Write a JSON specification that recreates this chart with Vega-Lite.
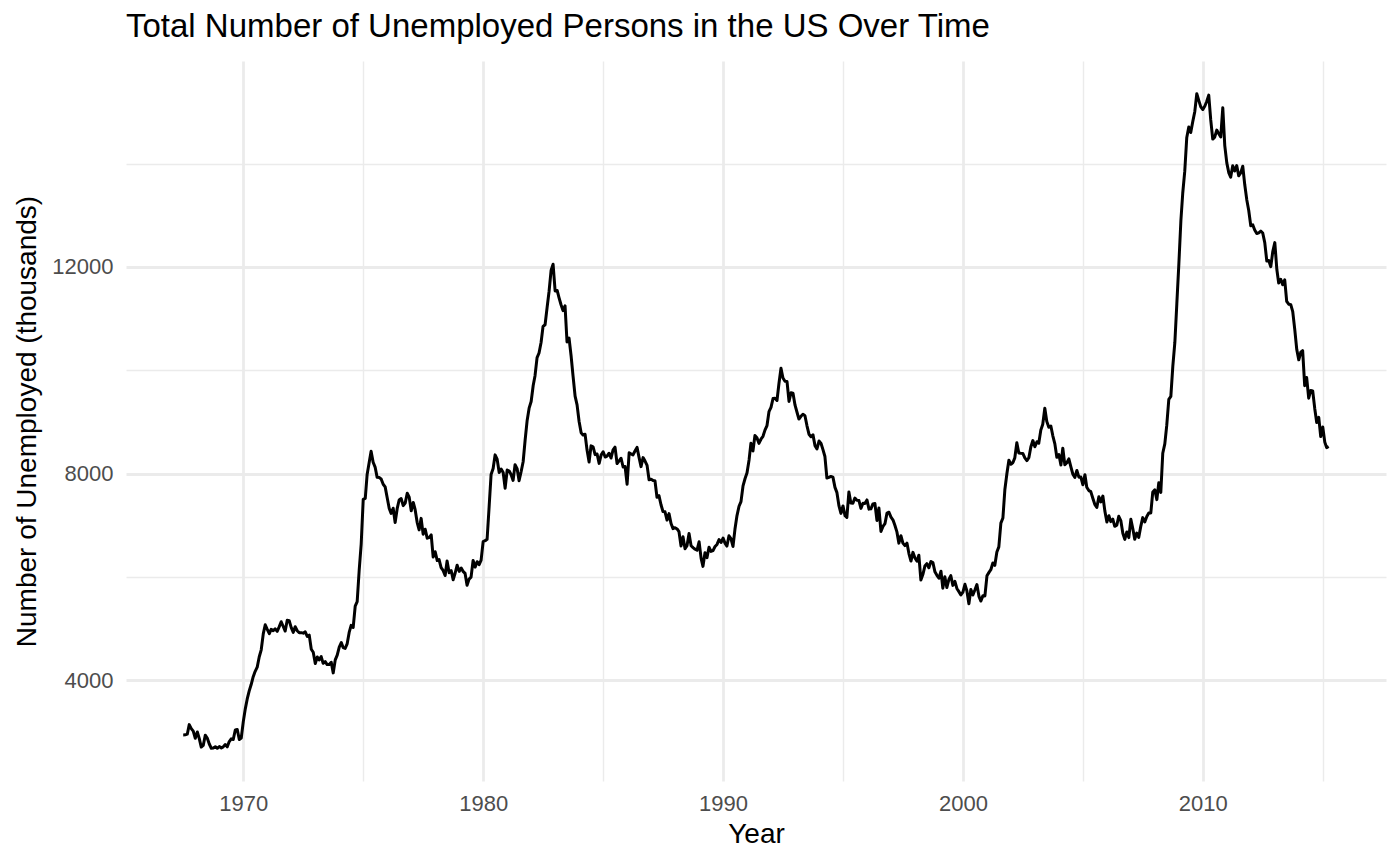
{
"$schema": "https://vega.github.io/schema/vega-lite/v6.json",
"autosize": "none",
"width": 1260,
"height": 720,
"padding": {"left": 126, "top": 61, "right": 14, "bottom": 84},
"background": "white",
"config": {"font": "Liberation Sans", "view": {"stroke": null}},
"title": {"text": "Total Number of Unemployed Persons in the US Over Time", "anchor": "start", "frame": "group", "fontSize": 33, "fontWeight": "normal", "color": "black", "offset": 17},
"data": {"values": [
{"date":"1967-07-01","unemploy":2944},{"date":"1967-08-01","unemploy":2945},{"date":"1967-09-01","unemploy":2958},{"date":"1967-10-01","unemploy":3143},{"date":"1967-11-01","unemploy":3066},{"date":"1967-12-01","unemploy":3018},
{"date":"1968-01-01","unemploy":2878},{"date":"1968-02-01","unemploy":3001},{"date":"1968-03-01","unemploy":2877},{"date":"1968-04-01","unemploy":2709},{"date":"1968-05-01","unemploy":2740},{"date":"1968-06-01","unemploy":2938},{"date":"1968-07-01","unemploy":2883},{"date":"1968-08-01","unemploy":2768},{"date":"1968-09-01","unemploy":2686},{"date":"1968-10-01","unemploy":2689},{"date":"1968-11-01","unemploy":2715},{"date":"1968-12-01","unemploy":2685},
{"date":"1969-01-01","unemploy":2718},{"date":"1969-02-01","unemploy":2692},{"date":"1969-03-01","unemploy":2712},{"date":"1969-04-01","unemploy":2758},{"date":"1969-05-01","unemploy":2713},{"date":"1969-06-01","unemploy":2816},{"date":"1969-07-01","unemploy":2868},{"date":"1969-08-01","unemploy":2856},{"date":"1969-09-01","unemploy":3040},{"date":"1969-10-01","unemploy":3049},{"date":"1969-11-01","unemploy":2856},{"date":"1969-12-01","unemploy":2884},
{"date":"1970-01-01","unemploy":3201},{"date":"1970-02-01","unemploy":3453},{"date":"1970-03-01","unemploy":3635},{"date":"1970-04-01","unemploy":3797},{"date":"1970-05-01","unemploy":3919},{"date":"1970-06-01","unemploy":4071},{"date":"1970-07-01","unemploy":4175},{"date":"1970-08-01","unemploy":4256},{"date":"1970-09-01","unemploy":4456},{"date":"1970-10-01","unemploy":4591},{"date":"1970-11-01","unemploy":4898},{"date":"1970-12-01","unemploy":5076},
{"date":"1971-01-01","unemploy":4986},{"date":"1971-02-01","unemploy":4903},{"date":"1971-03-01","unemploy":4987},{"date":"1971-04-01","unemploy":4959},{"date":"1971-05-01","unemploy":4996},{"date":"1971-06-01","unemploy":4949},{"date":"1971-07-01","unemploy":5035},{"date":"1971-08-01","unemploy":5134},{"date":"1971-09-01","unemploy":5042},{"date":"1971-10-01","unemploy":4954},{"date":"1971-11-01","unemploy":5161},{"date":"1971-12-01","unemploy":5154},
{"date":"1972-01-01","unemploy":5019},{"date":"1972-02-01","unemploy":4928},{"date":"1972-03-01","unemploy":5038},{"date":"1972-04-01","unemploy":4959},{"date":"1972-05-01","unemploy":4922},{"date":"1972-06-01","unemploy":4923},{"date":"1972-07-01","unemploy":4913},{"date":"1972-08-01","unemploy":4939},{"date":"1972-09-01","unemploy":4849},{"date":"1972-10-01","unemploy":4875},{"date":"1972-11-01","unemploy":4602},{"date":"1972-12-01","unemploy":4543},
{"date":"1973-01-01","unemploy":4326},{"date":"1973-02-01","unemploy":4452},{"date":"1973-03-01","unemploy":4394},{"date":"1973-04-01","unemploy":4459},{"date":"1973-05-01","unemploy":4329},{"date":"1973-06-01","unemploy":4363},{"date":"1973-07-01","unemploy":4305},{"date":"1973-08-01","unemploy":4305},{"date":"1973-09-01","unemploy":4350},{"date":"1973-10-01","unemploy":4144},{"date":"1973-11-01","unemploy":4396},{"date":"1973-12-01","unemploy":4489},
{"date":"1974-01-01","unemploy":4644},{"date":"1974-02-01","unemploy":4731},{"date":"1974-03-01","unemploy":4634},{"date":"1974-04-01","unemploy":4618},{"date":"1974-05-01","unemploy":4705},{"date":"1974-06-01","unemploy":4927},{"date":"1974-07-01","unemploy":5063},{"date":"1974-08-01","unemploy":5022},{"date":"1974-09-01","unemploy":5437},{"date":"1974-10-01","unemploy":5523},{"date":"1974-11-01","unemploy":6140},{"date":"1974-12-01","unemploy":6636},
{"date":"1975-01-01","unemploy":7501},{"date":"1975-02-01","unemploy":7520},{"date":"1975-03-01","unemploy":7978},{"date":"1975-04-01","unemploy":8210},{"date":"1975-05-01","unemploy":8433},{"date":"1975-06-01","unemploy":8220},{"date":"1975-07-01","unemploy":8127},{"date":"1975-08-01","unemploy":7928},{"date":"1975-09-01","unemploy":7923},{"date":"1975-10-01","unemploy":7897},{"date":"1975-11-01","unemploy":7794},{"date":"1975-12-01","unemploy":7744},
{"date":"1976-01-01","unemploy":7534},{"date":"1976-02-01","unemploy":7326},{"date":"1976-03-01","unemploy":7230},{"date":"1976-04-01","unemploy":7330},{"date":"1976-05-01","unemploy":7053},{"date":"1976-06-01","unemploy":7322},{"date":"1976-07-01","unemploy":7490},{"date":"1976-08-01","unemploy":7518},{"date":"1976-09-01","unemploy":7380},{"date":"1976-10-01","unemploy":7430},{"date":"1976-11-01","unemploy":7620},{"date":"1976-12-01","unemploy":7545},
{"date":"1977-01-01","unemploy":7280},{"date":"1977-02-01","unemploy":7443},{"date":"1977-03-01","unemploy":7307},{"date":"1977-04-01","unemploy":7059},{"date":"1977-05-01","unemploy":6911},{"date":"1977-06-01","unemploy":7134},{"date":"1977-07-01","unemploy":6829},{"date":"1977-08-01","unemploy":6925},{"date":"1977-09-01","unemploy":6751},{"date":"1977-10-01","unemploy":6763},{"date":"1977-11-01","unemploy":6815},{"date":"1977-12-01","unemploy":6386},
{"date":"1978-01-01","unemploy":6489},{"date":"1978-02-01","unemploy":6318},{"date":"1978-03-01","unemploy":6337},{"date":"1978-04-01","unemploy":6180},{"date":"1978-05-01","unemploy":6127},{"date":"1978-06-01","unemploy":6028},{"date":"1978-07-01","unemploy":6309},{"date":"1978-08-01","unemploy":6080},{"date":"1978-09-01","unemploy":6125},{"date":"1978-10-01","unemploy":5947},{"date":"1978-11-01","unemploy":6077},{"date":"1978-12-01","unemploy":6228},
{"date":"1979-01-01","unemploy":6109},{"date":"1979-02-01","unemploy":6173},{"date":"1979-03-01","unemploy":6109},{"date":"1979-04-01","unemploy":6069},{"date":"1979-05-01","unemploy":5840},{"date":"1979-06-01","unemploy":5959},{"date":"1979-07-01","unemploy":5996},{"date":"1979-08-01","unemploy":6320},{"date":"1979-09-01","unemploy":6190},{"date":"1979-10-01","unemploy":6296},{"date":"1979-11-01","unemploy":6238},{"date":"1979-12-01","unemploy":6325},
{"date":"1980-01-01","unemploy":6683},{"date":"1980-02-01","unemploy":6702},{"date":"1980-03-01","unemploy":6729},{"date":"1980-04-01","unemploy":7358},{"date":"1980-05-01","unemploy":7984},{"date":"1980-06-01","unemploy":8098},{"date":"1980-07-01","unemploy":8363},{"date":"1980-08-01","unemploy":8281},{"date":"1980-09-01","unemploy":8021},{"date":"1980-10-01","unemploy":8088},{"date":"1980-11-01","unemploy":8023},{"date":"1980-12-01","unemploy":7718},
{"date":"1981-01-01","unemploy":8071},{"date":"1981-02-01","unemploy":8051},{"date":"1981-03-01","unemploy":7982},{"date":"1981-04-01","unemploy":7869},{"date":"1981-05-01","unemploy":8174},{"date":"1981-06-01","unemploy":8098},{"date":"1981-07-01","unemploy":7863},{"date":"1981-08-01","unemploy":8036},{"date":"1981-09-01","unemploy":8230},{"date":"1981-10-01","unemploy":8646},{"date":"1981-11-01","unemploy":9029},{"date":"1981-12-01","unemploy":9267},
{"date":"1982-01-01","unemploy":9397},{"date":"1982-02-01","unemploy":9705},{"date":"1982-03-01","unemploy":9895},{"date":"1982-04-01","unemploy":10244},{"date":"1982-05-01","unemploy":10335},{"date":"1982-06-01","unemploy":10538},{"date":"1982-07-01","unemploy":10849},{"date":"1982-08-01","unemploy":10881},{"date":"1982-09-01","unemploy":11217},{"date":"1982-10-01","unemploy":11529},{"date":"1982-11-01","unemploy":11938},{"date":"1982-12-01","unemploy":12051},
{"date":"1983-01-01","unemploy":11534},{"date":"1983-02-01","unemploy":11545},{"date":"1983-03-01","unemploy":11408},{"date":"1983-04-01","unemploy":11268},{"date":"1983-05-01","unemploy":11154},{"date":"1983-06-01","unemploy":11246},{"date":"1983-07-01","unemploy":10548},{"date":"1983-08-01","unemploy":10623},{"date":"1983-09-01","unemploy":10282},{"date":"1983-10-01","unemploy":9887},{"date":"1983-11-01","unemploy":9499},{"date":"1983-12-01","unemploy":9331},
{"date":"1984-01-01","unemploy":9008},{"date":"1984-02-01","unemploy":8791},{"date":"1984-03-01","unemploy":8746},{"date":"1984-04-01","unemploy":8762},{"date":"1984-05-01","unemploy":8456},{"date":"1984-06-01","unemploy":8226},{"date":"1984-07-01","unemploy":8537},{"date":"1984-08-01","unemploy":8519},{"date":"1984-09-01","unemploy":8367},{"date":"1984-10-01","unemploy":8381},{"date":"1984-11-01","unemploy":8198},{"date":"1984-12-01","unemploy":8358},
{"date":"1985-01-01","unemploy":8423},{"date":"1985-02-01","unemploy":8321},{"date":"1985-03-01","unemploy":8339},{"date":"1985-04-01","unemploy":8395},{"date":"1985-05-01","unemploy":8302},{"date":"1985-06-01","unemploy":8460},{"date":"1985-07-01","unemploy":8513},{"date":"1985-08-01","unemploy":8196},{"date":"1985-09-01","unemploy":8248},{"date":"1985-10-01","unemploy":8298},{"date":"1985-11-01","unemploy":8128},{"date":"1985-12-01","unemploy":8138},
{"date":"1986-01-01","unemploy":7795},{"date":"1986-02-01","unemploy":8402},{"date":"1986-03-01","unemploy":8383},{"date":"1986-04-01","unemploy":8364},{"date":"1986-05-01","unemploy":8439},{"date":"1986-06-01","unemploy":8508},{"date":"1986-07-01","unemploy":8319},{"date":"1986-08-01","unemploy":8135},{"date":"1986-09-01","unemploy":8310},{"date":"1986-10-01","unemploy":8243},{"date":"1986-11-01","unemploy":8159},{"date":"1986-12-01","unemploy":7883},
{"date":"1987-01-01","unemploy":7892},{"date":"1987-02-01","unemploy":7865},{"date":"1987-03-01","unemploy":7862},{"date":"1987-04-01","unemploy":7542},{"date":"1987-05-01","unemploy":7574},{"date":"1987-06-01","unemploy":7398},{"date":"1987-07-01","unemploy":7268},{"date":"1987-08-01","unemploy":7261},{"date":"1987-09-01","unemploy":7102},{"date":"1987-10-01","unemploy":7227},{"date":"1987-11-01","unemploy":7035},{"date":"1987-12-01","unemploy":6936},
{"date":"1988-01-01","unemploy":6953},{"date":"1988-02-01","unemploy":6929},{"date":"1988-03-01","unemploy":6876},{"date":"1988-04-01","unemploy":6601},{"date":"1988-05-01","unemploy":6779},{"date":"1988-06-01","unemploy":6546},{"date":"1988-07-01","unemploy":6605},{"date":"1988-08-01","unemploy":6843},{"date":"1988-09-01","unemploy":6604},{"date":"1988-10-01","unemploy":6568},{"date":"1988-11-01","unemploy":6537},{"date":"1988-12-01","unemploy":6518},
{"date":"1989-01-01","unemploy":6682},{"date":"1989-02-01","unemploy":6359},{"date":"1989-03-01","unemploy":6205},{"date":"1989-04-01","unemploy":6468},{"date":"1989-05-01","unemploy":6375},{"date":"1989-06-01","unemploy":6577},{"date":"1989-07-01","unemploy":6495},{"date":"1989-08-01","unemploy":6511},{"date":"1989-09-01","unemploy":6590},{"date":"1989-10-01","unemploy":6630},{"date":"1989-11-01","unemploy":6725},{"date":"1989-12-01","unemploy":6667},
{"date":"1990-01-01","unemploy":6752},{"date":"1990-02-01","unemploy":6651},{"date":"1990-03-01","unemploy":6598},{"date":"1990-04-01","unemploy":6797},{"date":"1990-05-01","unemploy":6742},{"date":"1990-06-01","unemploy":6590},{"date":"1990-07-01","unemploy":6922},{"date":"1990-08-01","unemploy":7188},{"date":"1990-09-01","unemploy":7368},{"date":"1990-10-01","unemploy":7459},{"date":"1990-11-01","unemploy":7764},{"date":"1990-12-01","unemploy":7901},
{"date":"1991-01-01","unemploy":8015},{"date":"1991-02-01","unemploy":8265},{"date":"1991-03-01","unemploy":8586},{"date":"1991-04-01","unemploy":8439},{"date":"1991-05-01","unemploy":8736},{"date":"1991-06-01","unemploy":8692},{"date":"1991-07-01","unemploy":8586},{"date":"1991-08-01","unemploy":8666},{"date":"1991-09-01","unemploy":8722},{"date":"1991-10-01","unemploy":8842},{"date":"1991-11-01","unemploy":8931},{"date":"1991-12-01","unemploy":9198},
{"date":"1992-01-01","unemploy":9283},{"date":"1992-02-01","unemploy":9454},{"date":"1992-03-01","unemploy":9460},{"date":"1992-04-01","unemploy":9415},{"date":"1992-05-01","unemploy":9744},{"date":"1992-06-01","unemploy":10040},{"date":"1992-07-01","unemploy":9850},{"date":"1992-08-01","unemploy":9787},{"date":"1992-09-01","unemploy":9781},{"date":"1992-10-01","unemploy":9398},{"date":"1992-11-01","unemploy":9565},{"date":"1992-12-01","unemploy":9557},
{"date":"1993-01-01","unemploy":9325},{"date":"1993-02-01","unemploy":9183},{"date":"1993-03-01","unemploy":9056},{"date":"1993-04-01","unemploy":9110},{"date":"1993-05-01","unemploy":9149},{"date":"1993-06-01","unemploy":9121},{"date":"1993-07-01","unemploy":8930},{"date":"1993-08-01","unemploy":8763},{"date":"1993-09-01","unemploy":8714},{"date":"1993-10-01","unemploy":8750},{"date":"1993-11-01","unemploy":8542},{"date":"1993-12-01","unemploy":8477},
{"date":"1994-01-01","unemploy":8630},{"date":"1994-02-01","unemploy":8583},{"date":"1994-03-01","unemploy":8470},{"date":"1994-04-01","unemploy":8331},{"date":"1994-05-01","unemploy":7915},{"date":"1994-06-01","unemploy":7927},{"date":"1994-07-01","unemploy":7946},{"date":"1994-08-01","unemploy":7933},{"date":"1994-09-01","unemploy":7734},{"date":"1994-10-01","unemploy":7632},{"date":"1994-11-01","unemploy":7375},{"date":"1994-12-01","unemploy":7230},
{"date":"1995-01-01","unemploy":7375},{"date":"1995-02-01","unemploy":7187},{"date":"1995-03-01","unemploy":7153},{"date":"1995-04-01","unemploy":7645},{"date":"1995-05-01","unemploy":7430},{"date":"1995-06-01","unemploy":7427},{"date":"1995-07-01","unemploy":7527},{"date":"1995-08-01","unemploy":7484},{"date":"1995-09-01","unemploy":7478},{"date":"1995-10-01","unemploy":7328},{"date":"1995-11-01","unemploy":7426},{"date":"1995-12-01","unemploy":7423},
{"date":"1996-01-01","unemploy":7491},{"date":"1996-02-01","unemploy":7313},{"date":"1996-03-01","unemploy":7318},{"date":"1996-04-01","unemploy":7415},{"date":"1996-05-01","unemploy":7423},{"date":"1996-06-01","unemploy":7095},{"date":"1996-07-01","unemploy":7337},{"date":"1996-08-01","unemploy":6882},{"date":"1996-09-01","unemploy":6979},{"date":"1996-10-01","unemploy":7031},{"date":"1996-11-01","unemploy":7236},{"date":"1996-12-01","unemploy":7253},
{"date":"1997-01-01","unemploy":7158},{"date":"1997-02-01","unemploy":7102},{"date":"1997-03-01","unemploy":7000},{"date":"1997-04-01","unemploy":6873},{"date":"1997-05-01","unemploy":6655},{"date":"1997-06-01","unemploy":6799},{"date":"1997-07-01","unemploy":6655},{"date":"1997-08-01","unemploy":6608},{"date":"1997-09-01","unemploy":6656},{"date":"1997-10-01","unemploy":6454},{"date":"1997-11-01","unemploy":6308},{"date":"1997-12-01","unemploy":6476},
{"date":"1998-01-01","unemploy":6368},{"date":"1998-02-01","unemploy":6306},{"date":"1998-03-01","unemploy":6422},{"date":"1998-04-01","unemploy":5941},{"date":"1998-05-01","unemploy":6047},{"date":"1998-06-01","unemploy":6212},{"date":"1998-07-01","unemploy":6259},{"date":"1998-08-01","unemploy":6179},{"date":"1998-09-01","unemploy":6300},{"date":"1998-10-01","unemploy":6280},{"date":"1998-11-01","unemploy":6100},{"date":"1998-12-01","unemploy":6032},
{"date":"1999-01-01","unemploy":5976},{"date":"1999-02-01","unemploy":6111},{"date":"1999-03-01","unemploy":5783},{"date":"1999-04-01","unemploy":6004},{"date":"1999-05-01","unemploy":5796},{"date":"1999-06-01","unemploy":5951},{"date":"1999-07-01","unemploy":6025},{"date":"1999-08-01","unemploy":5838},{"date":"1999-09-01","unemploy":5915},{"date":"1999-10-01","unemploy":5778},{"date":"1999-11-01","unemploy":5716},{"date":"1999-12-01","unemploy":5653},
{"date":"2000-01-01","unemploy":5708},{"date":"2000-02-01","unemploy":5858},{"date":"2000-03-01","unemploy":5733},{"date":"2000-04-01","unemploy":5481},{"date":"2000-05-01","unemploy":5758},{"date":"2000-06-01","unemploy":5651},{"date":"2000-07-01","unemploy":5747},{"date":"2000-08-01","unemploy":5853},{"date":"2000-09-01","unemploy":5625},{"date":"2000-10-01","unemploy":5534},{"date":"2000-11-01","unemploy":5639},{"date":"2000-12-01","unemploy":5634},
{"date":"2001-01-01","unemploy":6023},{"date":"2001-02-01","unemploy":6089},{"date":"2001-03-01","unemploy":6141},{"date":"2001-04-01","unemploy":6271},{"date":"2001-05-01","unemploy":6226},{"date":"2001-06-01","unemploy":6484},{"date":"2001-07-01","unemploy":6583},{"date":"2001-08-01","unemploy":7042},{"date":"2001-09-01","unemploy":7142},{"date":"2001-10-01","unemploy":7694},{"date":"2001-11-01","unemploy":8003},{"date":"2001-12-01","unemploy":8258},
{"date":"2002-01-01","unemploy":8182},{"date":"2002-02-01","unemploy":8215},{"date":"2002-03-01","unemploy":8304},{"date":"2002-04-01","unemploy":8599},{"date":"2002-05-01","unemploy":8399},{"date":"2002-06-01","unemploy":8393},{"date":"2002-07-01","unemploy":8390},{"date":"2002-08-01","unemploy":8304},{"date":"2002-09-01","unemploy":8251},{"date":"2002-10-01","unemploy":8307},{"date":"2002-11-01","unemploy":8520},{"date":"2002-12-01","unemploy":8640},
{"date":"2003-01-01","unemploy":8520},{"date":"2003-02-01","unemploy":8618},{"date":"2003-03-01","unemploy":8588},{"date":"2003-04-01","unemploy":8842},{"date":"2003-05-01","unemploy":8957},{"date":"2003-06-01","unemploy":9266},{"date":"2003-07-01","unemploy":9011},{"date":"2003-08-01","unemploy":8896},{"date":"2003-09-01","unemploy":8921},{"date":"2003-10-01","unemploy":8732},{"date":"2003-11-01","unemploy":8576},{"date":"2003-12-01","unemploy":8317},
{"date":"2004-01-01","unemploy":8370},{"date":"2004-02-01","unemploy":8167},{"date":"2004-03-01","unemploy":8491},{"date":"2004-04-01","unemploy":8170},{"date":"2004-05-01","unemploy":8212},{"date":"2004-06-01","unemploy":8286},{"date":"2004-07-01","unemploy":8136},{"date":"2004-08-01","unemploy":7990},{"date":"2004-09-01","unemploy":7927},{"date":"2004-10-01","unemploy":8061},{"date":"2004-11-01","unemploy":7932},{"date":"2004-12-01","unemploy":7934},
{"date":"2005-01-01","unemploy":7784},{"date":"2005-02-01","unemploy":7980},{"date":"2005-03-01","unemploy":7737},{"date":"2005-04-01","unemploy":7672},{"date":"2005-05-01","unemploy":7651},{"date":"2005-06-01","unemploy":7524},{"date":"2005-07-01","unemploy":7406},{"date":"2005-08-01","unemploy":7345},{"date":"2005-09-01","unemploy":7553},{"date":"2005-10-01","unemploy":7453},{"date":"2005-11-01","unemploy":7566},{"date":"2005-12-01","unemploy":7279},
{"date":"2006-01-01","unemploy":7064},{"date":"2006-02-01","unemploy":7184},{"date":"2006-03-01","unemploy":7072},{"date":"2006-04-01","unemploy":7120},{"date":"2006-05-01","unemploy":6980},{"date":"2006-06-01","unemploy":7001},{"date":"2006-07-01","unemploy":7175},{"date":"2006-08-01","unemploy":7091},{"date":"2006-09-01","unemploy":6847},{"date":"2006-10-01","unemploy":6727},{"date":"2006-11-01","unemploy":6872},{"date":"2006-12-01","unemploy":6762},
{"date":"2007-01-01","unemploy":7116},{"date":"2007-02-01","unemploy":6927},{"date":"2007-03-01","unemploy":6731},{"date":"2007-04-01","unemploy":6850},{"date":"2007-05-01","unemploy":6766},{"date":"2007-06-01","unemploy":6979},{"date":"2007-07-01","unemploy":7149},{"date":"2007-08-01","unemploy":7067},{"date":"2007-09-01","unemploy":7170},{"date":"2007-10-01","unemploy":7237},{"date":"2007-11-01","unemploy":7240},{"date":"2007-12-01","unemploy":7645},
{"date":"2008-01-01","unemploy":7685},{"date":"2008-02-01","unemploy":7497},{"date":"2008-03-01","unemploy":7822},{"date":"2008-04-01","unemploy":7637},{"date":"2008-05-01","unemploy":8395},{"date":"2008-06-01","unemploy":8575},{"date":"2008-07-01","unemploy":8937},{"date":"2008-08-01","unemploy":9438},{"date":"2008-09-01","unemploy":9494},{"date":"2008-10-01","unemploy":10074},{"date":"2008-11-01","unemploy":10538},{"date":"2008-12-01","unemploy":11286},
{"date":"2009-01-01","unemploy":12058},{"date":"2009-02-01","unemploy":12898},{"date":"2009-03-01","unemploy":13426},{"date":"2009-04-01","unemploy":13853},{"date":"2009-05-01","unemploy":14499},{"date":"2009-06-01","unemploy":14707},{"date":"2009-07-01","unemploy":14601},{"date":"2009-08-01","unemploy":14814},{"date":"2009-09-01","unemploy":15009},{"date":"2009-10-01","unemploy":15352},{"date":"2009-11-01","unemploy":15219},{"date":"2009-12-01","unemploy":15098},
{"date":"2010-01-01","unemploy":15046},{"date":"2010-02-01","unemploy":15113},{"date":"2010-03-01","unemploy":15202},{"date":"2010-04-01","unemploy":15325},{"date":"2010-05-01","unemploy":14849},{"date":"2010-06-01","unemploy":14474},{"date":"2010-07-01","unemploy":14512},{"date":"2010-08-01","unemploy":14648},{"date":"2010-09-01","unemploy":14579},{"date":"2010-10-01","unemploy":14516},{"date":"2010-11-01","unemploy":15081},{"date":"2010-12-01","unemploy":14348},
{"date":"2011-01-01","unemploy":14013},{"date":"2011-02-01","unemploy":13820},{"date":"2011-03-01","unemploy":13737},{"date":"2011-04-01","unemploy":13957},{"date":"2011-05-01","unemploy":13855},{"date":"2011-06-01","unemploy":13962},{"date":"2011-07-01","unemploy":13763},{"date":"2011-08-01","unemploy":13818},{"date":"2011-09-01","unemploy":13948},{"date":"2011-10-01","unemploy":13594},{"date":"2011-11-01","unemploy":13302},{"date":"2011-12-01","unemploy":13093},
{"date":"2012-01-01","unemploy":12797},{"date":"2012-02-01","unemploy":12813},{"date":"2012-03-01","unemploy":12713},{"date":"2012-04-01","unemploy":12646},{"date":"2012-05-01","unemploy":12660},{"date":"2012-06-01","unemploy":12692},{"date":"2012-07-01","unemploy":12656},{"date":"2012-08-01","unemploy":12471},{"date":"2012-09-01","unemploy":12115},{"date":"2012-10-01","unemploy":12124},{"date":"2012-11-01","unemploy":12005},{"date":"2012-12-01","unemploy":12298},
{"date":"2013-01-01","unemploy":12471},{"date":"2013-02-01","unemploy":11950},{"date":"2013-03-01","unemploy":11689},{"date":"2013-04-01","unemploy":11760},{"date":"2013-05-01","unemploy":11654},{"date":"2013-06-01","unemploy":11751},{"date":"2013-07-01","unemploy":11335},{"date":"2013-08-01","unemploy":11279},{"date":"2013-09-01","unemploy":11270},{"date":"2013-10-01","unemploy":11136},{"date":"2013-11-01","unemploy":10787},{"date":"2013-12-01","unemploy":10404},
{"date":"2014-01-01","unemploy":10202},{"date":"2014-02-01","unemploy":10349},{"date":"2014-03-01","unemploy":10380},{"date":"2014-04-01","unemploy":9702},{"date":"2014-05-01","unemploy":9859},{"date":"2014-06-01","unemploy":9460},{"date":"2014-07-01","unemploy":9608},{"date":"2014-08-01","unemploy":9599},{"date":"2014-09-01","unemploy":9262},{"date":"2014-10-01","unemploy":8990},{"date":"2014-11-01","unemploy":9090},{"date":"2014-12-01","unemploy":8717},
{"date":"2015-01-01","unemploy":8903},{"date":"2015-02-01","unemploy":8610},{"date":"2015-03-01","unemploy":8504},{"date":"2015-04-01","unemploy":8526}
]},
"layer": [
{
"mark": {"type": "line", "strokeOpacity": 0},
"encoding": {
"x": {"field": "date", "type": "temporal",
"scale": {"domain": [{"year": 1965, "month": 2, "date": 10}, {"year": 2017, "month": 8, "date": 21}], "nice": false},
"axis": {"orient": "top", "values": [{"year": 1975}, {"year": 1985}, {"year": 1995}, {"year": 2005}, {"year": 2015}], "labels": false, "ticks": false, "domain": false, "title": null, "grid": true, "gridColor": "#EBEBEB", "gridWidth": 1.4}},
"y": {"field": "unemploy", "type": "quantitative",
"scale": {"domain": [2052, 15985], "nice": false, "zero": false},
"axis": {"orient": "right", "values": [6000, 10000, 14000], "labels": false, "ticks": false, "domain": false, "title": null, "grid": true, "gridColor": "#EBEBEB", "gridWidth": 1.4}}
}
},
{
"mark": {"type": "line", "color": "black", "strokeWidth": 3, "strokeJoin": "round", "strokeCap": "butt"},
"encoding": {
"x": {"field": "date", "type": "temporal",
"scale": {"domain": [{"year": 1965, "month": 2, "date": 10}, {"year": 2017, "month": 8, "date": 21}], "nice": false},
"axis": {"orient": "bottom", "title": "Year", "values": [{"year": 1970}, {"year": 1980}, {"year": 1990}, {"year": 2000}, {"year": 2010}], "format": "%Y", "grid": true, "gridColor": "#EBEBEB", "gridWidth": 2.8, "ticks": false, "domain": false, "labelFontSize": 22, "labelColor": "#4D4D4D", "labelPadding": 12, "titleFontSize": 28, "titleFontWeight": "normal", "titleColor": "black", "titlePadding": 6}},
"y": {"field": "unemploy", "type": "quantitative",
"scale": {"domain": [2052, 15985], "nice": false, "zero": false},
"axis": {"orient": "left", "title": "Number of Unemployed (thousands)", "values": [4000, 8000, 12000], "format": "d", "grid": true, "gridColor": "#EBEBEB", "gridWidth": 2.8, "ticks": false, "domain": false, "labelFontSize": 22, "labelColor": "#4D4D4D", "labelPadding": 13, "titleFontSize": 28, "titleFontWeight": "normal", "titleColor": "black", "titlePadding": 10}}
}
}
],
"resolve": {"axis": {"x": "independent", "y": "independent"}}
}
